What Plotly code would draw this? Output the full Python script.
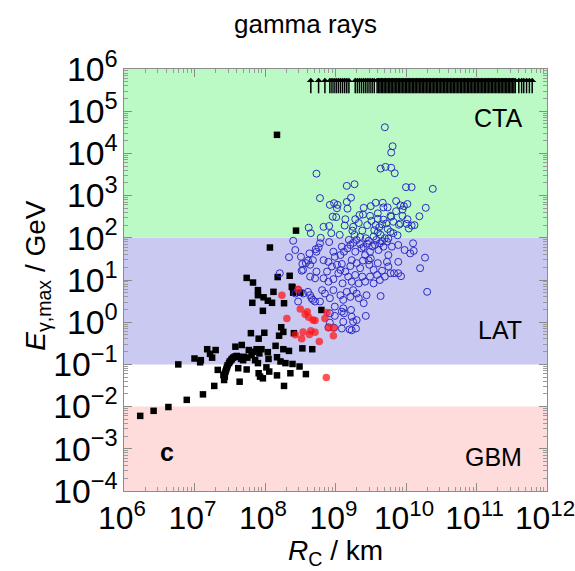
import plotly.graph_objects as go

# ---------------- data (log10 values) ----------------
title_text = "gamma rays"
x_range_log = [6, 12]
y_range_log = [-4, 6]

band_lower = [1e-4, 1e-1, 1e2]
band_upper = [1e-2, 1e2, 1e6]
band_colors = ["#ffdcdc", "#c9c9f2", "#bbfac5"]
band_labels = ["GBM", "LAT", "CTA"]

black_log_rc = [
    6.23, 6.42, 6.63, 6.89, 7.12, 7.28, 7.33, 7.41, 7.42, 6.77,
    7.00, 7.08, 7.09, 7.18, 7.30, 7.22, 7.25, 7.58, 7.67, 7.64,
    7.74, 7.62, 7.80, 7.91, 7.99, 7.97, 7.82, 7.90, 7.90, 7.98,
    8.04, 8.10, 8.12, 7.83, 8.27, 8.38, 8.20, 8.26, 8.41, 8.15,
    8.26, 8.34, 8.04, 8.17, 8.22, 8.29, 8.39, 8.05, 8.02, 8.06,
    8.17, 8.27, 8.36, 7.91, 7.93, 7.97, 7.90, 7.77, 7.81, 7.86,
    7.92, 7.95, 7.88, 7.83, 7.75, 7.70,
    7.43, 7.44, 7.46, 7.49, 7.52, 7.55, 7.59, 7.62, 7.66, 7.69,
    7.50, 7.53, 7.57, 7.60, 7.47, 7.45, 7.43,
    8.44, 8.07, 7.74, 8.18, 8.35, 8.39, 8.40, 8.50, 8.80, 8.23,
    8.53, 8.67, 8.49, 8.58, 8.17,
]
black_log_e = [
    -2.22, -2.10, -2.01, -1.84, -1.71, -1.51, -1.13, -1.25, -1.37, -1.00,
    -0.86, -0.95, -0.90, -0.64, -0.66, -0.75, -0.84, -0.58, -0.54, -1.41,
    -1.12, -1.09, -0.26, -0.39, -0.25, 0.27, 0.46, 0.64, 0.76, 0.59,
    0.51, 0.46, 0.72, 0.94, 0.45, 0.84, -0.32, -0.23, -0.26, -0.56,
    -0.64, -0.68, -0.71, -0.83, -0.93, -0.97, -0.99, -0.87, -1.07, -1.17,
    -1.26, -1.51, -1.21, -1.21, -1.29, -1.33, -0.97, -0.66, -0.78, -0.90,
    -0.74, -0.64, -0.64, -0.70, -0.84, -0.82,
    -1.29, -1.17, -1.07, -0.97, -0.90, -0.84, -0.81, -0.82, -0.87, -0.90,
    -0.93, -0.87, -0.82, -0.80, -1.02, -1.12, -1.22,
    2.17, 1.77, 1.05, 1.07, 1.10, 0.83, 0.70, 0.70, 0.29, -0.12,
    -0.62, -0.64, -1.05, -1.23, 4.44,
]

red_log_rc = [8.24, 8.31, 8.47, 8.50, 8.57, 8.60, 8.62, 8.68, 8.71, 8.85, 8.88,
              8.54, 8.63, 8.71, 8.65, 8.52, 8.77, 8.90, 8.97, 8.97, 8.43, 8.87]
red_log_e = [0.64, 0.09, 0.78, 0.31, 0.19, 0.25, 0.12, 0.05, 0.04, 0.09, 0.23,
             -0.23, -0.29, -0.24, -0.20, -0.39, -0.46, -0.13, -0.14, -0.32, -0.30, -1.31]

blue_log_rc = [
    9.70, 9.81, 9.79, 9.64, 9.71, 9.79, 9.84, 8.73, 9.16, 9.27,
    10.00, 10.08, 10.38, 8.78, 9.22, 9.16, 8.92, 8.98, 9.03, 9.02,
    9.17, 9.40, 9.50, 9.57, 9.67, 9.74, 9.68, 9.86, 9.92, 9.97,
    10.02, 9.95, 10.28, 8.96, 9.01, 9.34, 9.39, 9.60, 9.49, 9.78,
    9.86, 9.95, 10.02, 10.19, 9.14, 9.28, 8.83, 8.91, 9.13, 9.25,
    9.51, 9.60, 9.68, 9.66, 9.57, 9.72, 9.79, 9.82, 9.90, 9.92,
    10.01, 10.08, 10.12, 10.04, 8.62, 8.65, 8.79, 8.94, 9.06, 9.24,
    9.38, 9.27, 9.43, 9.55, 9.60, 9.64, 9.74, 9.82, 9.78, 9.88,
    9.70, 9.75, 9.54, 8.40, 10.10, 9.98, 10.11, 10.06, 10.27, 10.20,
    9.93, 10.30,
    8.43, 8.51, 8.58, 8.53, 8.61, 8.68, 8.64, 8.54, 8.73, 8.76,
    8.78, 8.91, 8.97, 8.99, 9.07, 9.09, 9.12, 9.17, 9.21, 9.25,
    9.28, 9.35, 9.37, 9.42, 9.45, 9.49, 9.50, 9.56, 9.61, 9.63,
    9.68, 9.73, 9.75, 9.80, 9.89,
    8.83, 8.90, 8.95, 9.02, 9.07, 9.09, 9.14, 9.21, 9.23, 9.30,
    9.35, 9.39, 9.47, 9.48, 9.54, 9.60, 9.66, 9.73, 9.75, 9.78,
    9.83, 9.89,
    8.73, 8.64, 8.71, 8.83, 8.88, 8.90, 8.97, 9.04, 9.10, 9.18,
    9.23, 9.28, 9.33, 9.38, 9.42, 9.49, 9.54, 9.59, 9.63, 9.70,
    8.47, 8.54, 8.61, 8.66, 8.71, 8.78, 8.81, 8.85, 8.92, 8.97,
    9.07, 9.11, 9.16, 9.21, 9.25, 9.30, 9.33, 9.40, 9.44, 9.64,
    8.99, 9.11, 9.22, 9.12, 9.23, 9.25, 9.30, 9.43, 8.92, 8.99,
    9.09, 9.20, 9.29, 8.90,
    8.34, 8.52, 8.63, 8.72, 8.21, 8.43, 8.47, 8.64, 8.68,
    8.92, 9.09, 9.11, 8.98, 9.23, 9.89,
    9.30, 9.35, 9.47, 9.58, 9.66, 9.52, 9.40, 9.19, 9.62, 9.45, 9.33,
]
blue_log_e = [
    4.62, 4.17, 4.02, 3.64, 3.68, 3.66, 3.53, 3.52, 3.23, 3.27,
    3.20, 3.20, 3.16, 2.94, 2.95, 2.85, 2.78, 2.82, 2.78, 2.70,
    2.69, 2.71, 2.75, 2.83, 2.83, 2.72, 2.72, 2.87, 2.77, 2.75,
    2.80, 2.67, 2.71, 2.50, 2.49, 2.54, 2.55, 2.58, 2.52, 2.52,
    2.63, 2.52, 2.44, 2.51, 2.44, 2.44, 2.26, 2.28, 2.29, 2.26,
    2.40, 2.45, 2.43, 2.32, 2.30, 2.34, 2.50, 2.38, 2.31, 2.34,
    2.33, 2.29, 2.30, 2.22, 2.24, 2.11, 2.00, 2.11, 2.07, 2.17,
    2.17, 2.07, 1.99, 2.18, 2.13, 2.07, 2.21, 2.11, 2.14, 2.06,
    1.99, 1.98, 2.03, 1.93, 1.87, 1.71, 1.69, 1.63, 1.53, 1.28,
    1.09, 0.72,
    1.71, 1.55, 1.40, 1.38, 1.46, 1.47, 1.36, 1.24, 1.67, 1.77,
    1.87, 1.90, 1.67, 1.55, 1.59, 1.79, 1.67, 1.75, 1.83, 1.88,
    1.67, 1.85, 1.75, 1.59, 1.86, 1.67, 1.51, 1.83, 1.71, 1.87,
    1.79, 1.91, 1.59, 1.79, 1.83,
    1.47, 1.43, 1.32, 1.36, 1.24, 1.38, 1.20, 1.33, 1.47, 1.40,
    1.28, 1.46, 1.47, 1.36, 1.24, 1.40, 1.22, 1.43, 1.32, 1.16,
    1.16, 1.43,
    1.20, 1.08, 1.04, 1.04, 1.20, 0.96, 1.02, 1.16, 0.92, 1.08,
    0.96, 1.12, 0.92, 1.08, 0.96, 1.08, 0.92, 1.12, 1.00, 1.08,
    0.76, 0.68, 0.72, 0.57, 0.49, 0.49, 0.76, 0.68, 0.57, 0.76,
    0.64, 0.53, 0.72, 0.60, 0.76, 0.68, 0.57, 0.45, 0.64, 0.62,
    0.37, 0.33, 0.29, 0.21, 0.13, 0.01, 0.05, 0.15, -0.01, 0.15,
    -0.15, -0.17, -0.15, -0.12,
    1.54, 1.22, 1.63, 1.73, 1.16, 0.68, 0.49, 0.64, 0.53,
    0.21, 0.25, 0.01, -0.13, -0.19, 1.16,
    1.95, 2.02, 1.93, 1.95, 1.92, 1.80, 1.78, 1.95, 2.25, 2.30, 2.35,
]

arrow_log_rc = [
    8.65, 8.76, 8.85,
    8.92, 8.95, 8.98, 9.01, 9.04, 9.07, 9.10, 9.13, 9.16, 9.19,
    9.28, 9.31, 9.34, 9.37, 9.40, 9.43, 9.46, 9.49, 9.52, 9.55,
    9.59, 9.61, 9.63, 9.65, 9.67, 9.69, 9.71, 9.73, 9.75, 9.77,
    9.79, 9.81, 9.83, 9.85, 9.87, 9.89, 9.91, 9.93, 9.95, 9.97,
    9.99, 10.01, 10.03, 10.05, 10.07, 10.09, 10.11, 10.13, 10.15, 10.17,
    10.19, 10.21, 10.23, 10.25, 10.27, 10.29, 10.31, 10.33, 10.35, 10.37,
    10.39, 10.41, 10.43, 10.45, 10.47, 10.49, 10.51, 10.53, 10.55, 10.57,
    10.59, 10.61, 10.63, 10.65, 10.67, 10.69, 10.71, 10.73, 10.75, 10.77,
    10.79, 10.81, 10.83, 10.85, 10.87, 10.89, 10.91, 10.93, 10.95, 10.97,
    10.99, 11.01, 11.03, 11.05, 11.07, 11.09, 11.11, 11.13, 11.15, 11.17,
    11.19, 11.21, 11.23, 11.25, 11.27, 11.29, 11.31, 11.33, 11.35, 11.37,
    11.39, 11.41, 11.43, 11.45, 11.47, 11.49, 11.51, 11.53, 11.55,
    11.60, 11.64, 11.67, 11.71, 11.75, 11.79,
]
arrow_tip_log_e = 5.79

FONT = "Liberation Sans, Arial, sans-serif"

fig = go.Figure()

for lo, hi, col in zip(band_lower, band_upper, band_colors):
    fig.add_shape(type="rect", xref="paper", yref="y", x0=0, x1=1, y0=lo, y1=hi,
                  fillcolor=col, line_width=0, layer="below")

fig.add_trace(go.Scatter(
    x=[10 ** v for v in black_log_rc], y=[10 ** v for v in black_log_e],
    mode="markers", marker=dict(symbol="square", size=6.5, color="black"),
    showlegend=False, hoverinfo="skip"))
fig.add_trace(go.Scatter(
    x=[10 ** v for v in blue_log_rc], y=[10 ** v for v in blue_log_e],
    mode="markers",
    marker=dict(symbol="circle-open", size=7, color="#2b2bc4", line=dict(width=1)),
    showlegend=False, hoverinfo="skip"))
fig.add_trace(go.Scatter(
    x=[10 ** v for v in red_log_rc], y=[10 ** v for v in red_log_e],
    mode="markers", marker=dict(symbol="circle", size=7.5, color="rgba(255,20,20,0.72)"),
    showlegend=False, hoverinfo="skip"))

annotations = []
for v in arrow_log_rc:
    annotations.append(dict(x=v, y=arrow_tip_log_e, xref="x", yref="y",
                            ax=0, ay=17, axref="pixel", ayref="pixel",
                            showarrow=True, arrowhead=1, arrowsize=0.9,
                            arrowwidth=1.5, arrowcolor="black", text=""))

# band labels
label_y = [0.081, 0.381, 0.884]
for lab, yy in zip(band_labels, label_y):
    annotations.append(dict(x=0.946, y=yy, xref="paper", yref="paper", text=lab,
                            showarrow=False, xanchor="right", yanchor="middle",
                            font=dict(family=FONT, size=25, color="black")))
annotations.append(dict(x=0.102, y=0.092, xref="paper", yref="paper", text="<b>c</b>",
                        showarrow=False, xanchor="center", yanchor="middle",
                        font=dict(family=FONT, size=25, color="black")))
# title
annotations.append(dict(x=0.428, y=1, xref="paper", yref="paper", text=title_text,
                        showarrow=False, xanchor="center", yanchor="middle", yshift=45,
                        font=dict(family=FONT, size=26, color="black")))
# axis titles
annotations.append(dict(x=0.5, y=0, xref="paper", yref="paper",
                        text="<i>R</i><sub>C</sub> / km",
                        showarrow=False, xanchor="center", yanchor="middle", yshift=-61,
                        font=dict(family=FONT, size=28, color="black")))
annotations.append(dict(x=0, y=0.51, xref="paper", yref="paper",
                        text="<i>E</i><sub>γ,max</sub> / GeV", textangle=-90,
                        showarrow=False, xanchor="center", yanchor="middle", xshift=-86,
                        font=dict(family=FONT, size=28, color="black")))

alias_y = {"1": "10<sup>0</sup>", "10": "10<sup>1</sup>"}
axis_common = dict(
    type="log", dtick=1, exponentformat="power", showexponent="all",
    showgrid=False, zeroline=False, showline=True, linecolor="#8c8c8c", linewidth=1,
    mirror="allticks", ticks="inside", ticklen=8, tickwidth=1, tickcolor="#8c8c8c",
    minor=dict(ticks="inside", ticklen=4, tickwidth=1, tickcolor="#9a9a9a",
               dtick="D1", showgrid=False),
    labelalias=alias_y,
    ticklabeloverflow="allow",
    automargin=False,
)

fig.update_xaxes(range=x_range_log, tickfont=dict(family=FONT, size=25.5, color="black"),
                 ticklabelshift=-2, **axis_common)
fig.update_yaxes(range=y_range_log, tickfont=dict(family=FONT, size=27, color="black"),
                 **axis_common)

fig.update_layout(
    width=575, height=571,
    margin=dict(l=124, r=28, t=69, b=80, autoexpand=False),
    paper_bgcolor="white", plot_bgcolor="white",
    font=dict(family=FONT, color="black"),
    annotations=annotations,
    showlegend=False,
)

fig.write_html("out.html")
